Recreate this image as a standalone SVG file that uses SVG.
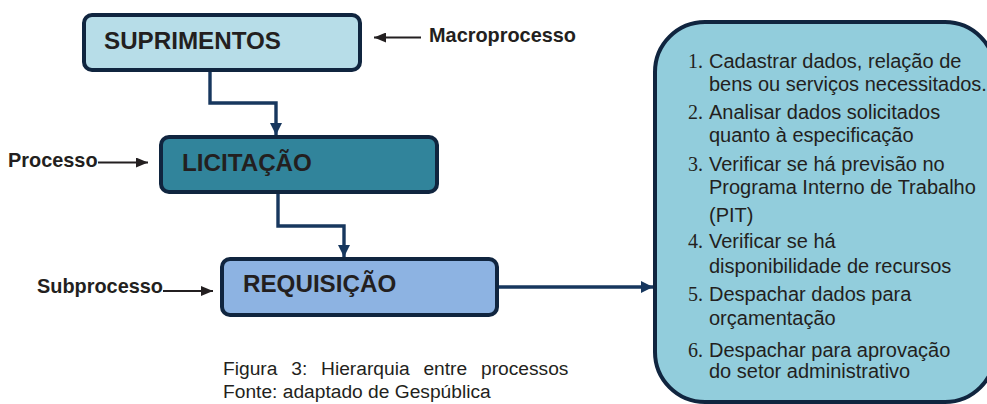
<svg xmlns="http://www.w3.org/2000/svg" width="987" height="404" viewBox="0 0 987 404">
<style>
.box{stroke:#10253f;stroke-width:4}
.bt{font-family:"Liberation Sans",Arial,sans-serif;font-weight:bold;font-size:24.2px;fill:#231f20}
.lbl{font-family:"Liberation Sans",Arial,sans-serif;font-weight:bold;font-size:19.9px;fill:#231f20}
.cap{font-family:"Liberation Sans",Arial,sans-serif;font-size:19.2px;fill:#231f20}
.li{font-family:"Liberation Sans",Arial,sans-serif;font-size:20px;fill:#231f20}
.num{font-family:"Liberation Serif","Times New Roman",serif;font-size:20px;fill:#231f20}
.conn{fill:none;stroke:#17375e;stroke-width:3.4}
.thin{fill:none;stroke:#231f20;stroke-width:2}
</style>
<defs>
<marker id="ah" viewBox="0 0 12 12" refX="12" refY="6" markerWidth="12" markerHeight="12" markerUnits="userSpaceOnUse" orient="auto">
<path d="M0,0 L12,6 L0,12 Z" fill="#17375e"/>
</marker>
<marker id="ab" viewBox="0 0 12 10" refX="12" refY="5" markerWidth="12" markerHeight="10" markerUnits="userSpaceOnUse" orient="auto">
<path d="M0,0 L12,5 L0,10 Z" fill="#231f20"/>
</marker>
</defs>
<rect width="987" height="404" fill="#ffffff"/>
<g id="connectors">
<path class="conn" d="M210,72 V103 H276 V135" marker-end="url(#ah)"/>
<path class="conn" d="M278,193 V226 H344 V257" marker-end="url(#ah)"/>
<path class="conn" d="M498,287 H653" marker-end="url(#ah)"/>
<path class="thin" d="M421,37.5 H374" marker-end="url(#ab)"/>
<path class="thin" d="M98,162.5 H148" marker-end="url(#ab)"/>
<path class="thin" d="M163,291 H213" marker-end="url(#ab)"/>
</g>
<g id="suprimentos">
<rect class="box" x="84" y="15" width="276" height="55" rx="8" fill="#b7dde8"/>
<text class="bt" x="104" y="49">SUPRIMENTOS</text>
</g>
<g id="licitacao">
<rect class="box" x="161" y="137" width="276" height="55" rx="8" fill="#31849b"/>
<text class="bt" x="182" y="171">LICITAÇÃO</text>
</g>
<g id="requisicao">
<rect class="box" x="222" y="259" width="275" height="56" rx="8" fill="#8db3e2"/>
<text class="bt" x="243" y="292">REQUISIÇÃO</text>
</g>
<g id="labels">
<text class="lbl" x="429" y="41.7">Macroprocesso</text>
<text class="lbl" x="8" y="166.7">Processo</text>
<text class="lbl" x="37" y="293.3">Subprocesso</text>
</g>
<g id="caption">
<text class="cap" x="223" y="375" word-spacing="8.5">Figura 3: Hierarquia entre processos</text>
<text class="cap" x="223" y="398">Fonte: adaptado de Gespública</text>
</g>
<g id="steps">
<rect class="box" x="655" y="22" width="340" height="380" rx="50" fill="#92cddc"/>
<text class="num" x="688" y="67.7">1.</text>
<text class="li" x="709" y="67.7">Cadastrar dados, relação de</text>
<text class="li" x="709" y="90.7">bens ou serviços necessitados.</text>
<text class="num" x="688" y="119">2.</text>
<text class="li" x="709" y="119">Analisar dados solicitados</text>
<text class="li" x="709" y="141.7">quanto à especificação</text>
<text class="num" x="688" y="170.7">3.</text>
<text class="li" x="709" y="170.7">Verificar se há previsão no</text>
<text class="li" x="709" y="194">Programa Interno de Trabalho</text>
<text class="li" x="709" y="221.7">(PIT)</text>
<text class="num" x="688" y="247.7">4.</text>
<text class="li" x="709" y="247.7">Verificar se há</text>
<text class="li" x="709" y="272.7">disponibilidade de recursos</text>
<text class="num" x="688" y="301">5.</text>
<text class="li" x="709" y="301">Despachar dados para</text>
<text class="li" x="709" y="325">orçamentação</text>
<text class="num" x="688" y="356.7">6.</text>
<text class="li" x="709" y="356.7">Despachar para aprovação</text>
<text class="li" x="709" y="378.3">do setor administrativo</text>
</g>
</svg>
